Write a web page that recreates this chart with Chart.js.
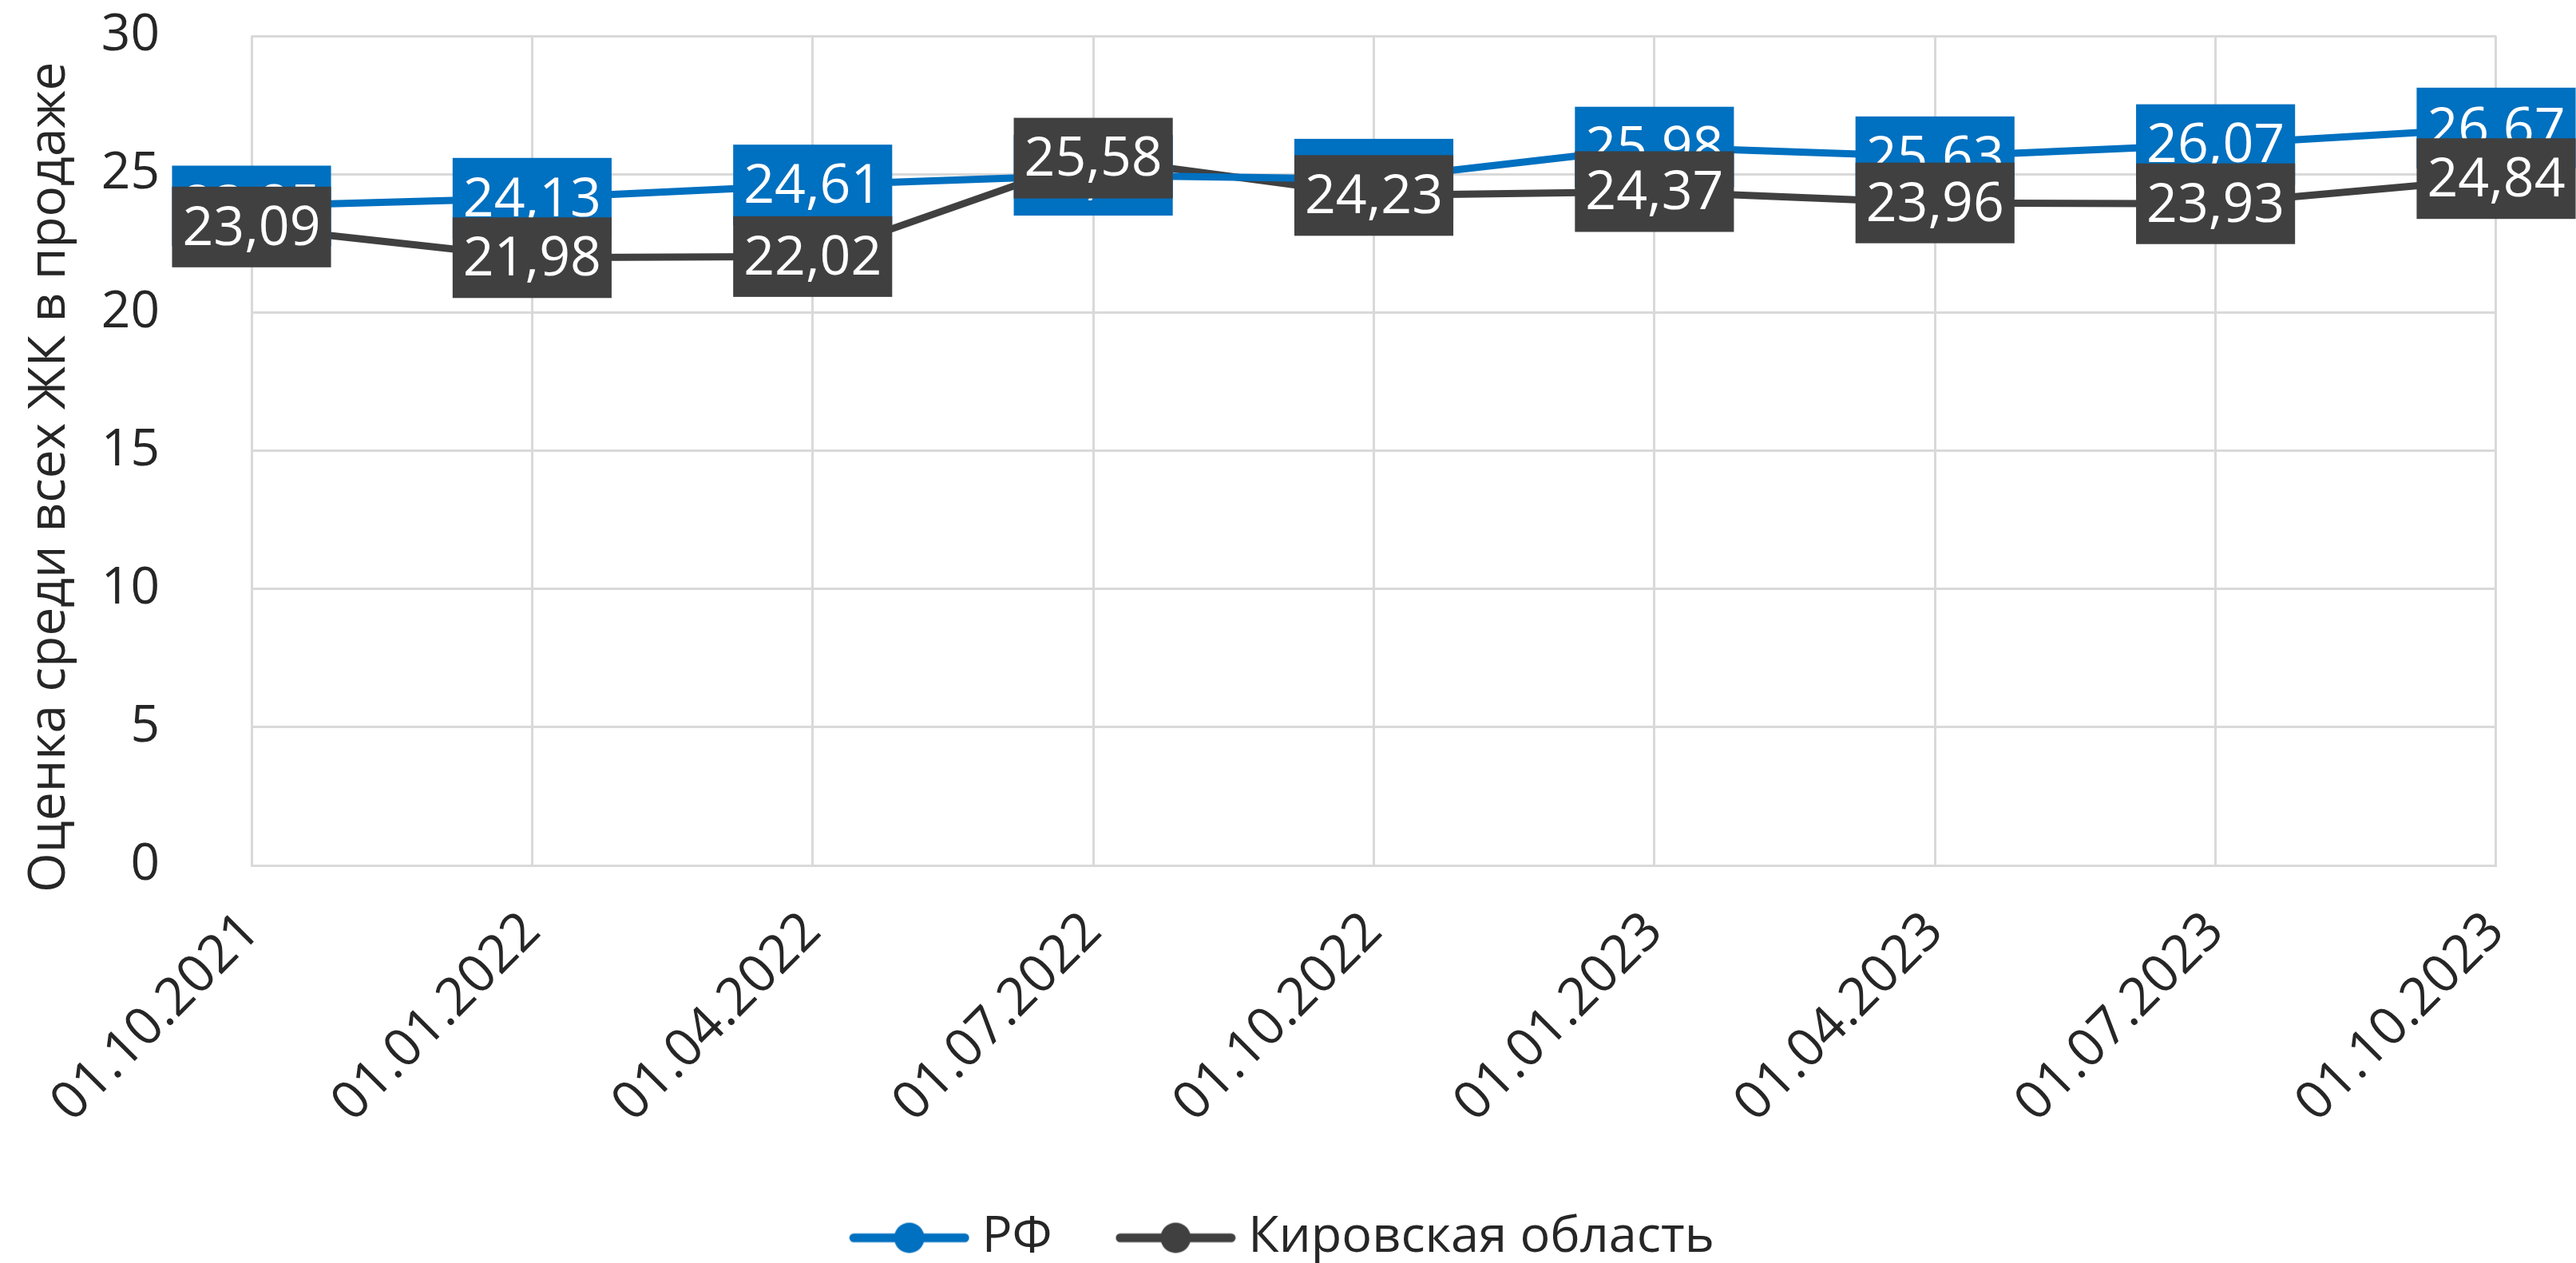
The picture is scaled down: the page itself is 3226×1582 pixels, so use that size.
<!DOCTYPE html>
<html>
<head>
<meta charset="utf-8">
<script src="https://cdn.jsdelivr.net/npm/chart.js@4.4.0/dist/chart.umd.min.js"></script>
<style>
  html, body { margin: 0; padding: 0; background: #ffffff; }
  canvas { display: block; }
</style>
</head>
<body>
<canvas id="chart" width="3226" height="1582"></canvas>
<script>
// data
const dates = ['01.10.2021', '01.01.2022', '01.04.2022', '01.07.2022', '01.10.2022',
               '01.01.2023', '01.04.2023', '01.07.2023', '01.10.2023'];
const rfValues = [23.85, 24.13, 24.61, 24.96, 24.82, 25.98, 25.63, 26.07, 26.67];
const kirovValues = [23.09, 21.98, 22.02, 25.58, 24.23, 24.37, 23.96, 23.93, 24.84];
const seriesNames = ['РФ', 'Кировская область'];
const yTitle = 'Оценка среди всех ЖК в продаже';

const BLUE = '#0070C0';
const DARK = '#404040';
const FONT = '"Open Sans", "Noto Sans", sans-serif';
const LEGEND_PAD = 95;
const LEGEND_FONT = 63;
const BOTTOM_PAD = -10;

const fmt = v => v.toFixed(2).replace('.', ',');

// small canvas used as the legend symbol: line with a round marker
function legendSymbol(color) {
  const c = document.createElement('canvas');
  c.width = 151;
  c.height = 40;
  const g = c.getContext('2d');
  g.strokeStyle = color;
  g.lineWidth = 11;
  g.lineCap = 'round';
  g.beginPath();
  g.moveTo(6, 20);
  g.lineTo(145, 20);
  g.stroke();
  g.fillStyle = color;
  g.beginPath();
  g.arc(75.5, 20, 19, 0, Math.PI * 2);
  g.fill();
  return c;
}

// Excel-like data labels: filled box with white text, centred on the point
const valueBoxes = {
  id: 'valueBoxes',
  afterDatasetsDraw(chart) {
    const ctx = chart.ctx;
    ctx.save();
    ctx.font = '68px ' + FONT;
    ctx.textAlign = 'center';
    ctx.textBaseline = 'middle';
    chart.data.datasets.forEach((ds, di) => {
      const meta = chart.getDatasetMeta(di);
      meta.data.forEach((pt, i) => {
        const text = fmt(ds.data[i]);
        const w = ctx.measureText(text).width + 26;
        const h = 101;
        ctx.fillStyle = ds.borderColor;
        ctx.fillRect(pt.x - w / 2, pt.y - h / 2, w, h);
        ctx.fillStyle = '#ffffff';
        ctx.fillText(text, pt.x, pt.y + 3);
      });
    });
    ctx.restore();
  }
};

new Chart(document.getElementById('chart').getContext('2d'), {
  type: 'line',
  data: {
    labels: dates,
    datasets: [
      {
        label: seriesNames[0],
        data: rfValues,
        borderColor: BLUE,
        backgroundColor: BLUE,
        borderWidth: 9,
        pointRadius: 17,
        pointBorderWidth: 0,
        tension: 0,
        clip: false
      },
      {
        label: seriesNames[1],
        data: kirovValues,
        borderColor: DARK,
        backgroundColor: DARK,
        borderWidth: 9,
        pointRadius: 17,
        pointBorderWidth: 0,
        tension: 0,
        clip: false
      }
    ]
  },
  options: {
    responsive: false,
    animation: false,
    devicePixelRatio: 1,
    layout: { padding: { top: 45, right: 0, left: 0, bottom: BOTTOM_PAD } },
    scales: {
      x: {
        offset: false,
        grid: { color: '#d9d9d9', lineWidth: 3, drawTicks: false },
        border: { color: '#d9d9d9', width: 3 },
        ticks: {
          minRotation: 45,
          maxRotation: 45,
          padding: 44,
          color: '#262626',
          font: { family: FONT, size: 66 }
        },
        afterFit: scale => {
          scale.height = 1582 - BOTTOM_PAD - (LEGEND_FONT + LEGEND_PAD + 10) - 1084;
        }
      },
      y: {
        min: 0,
        max: 30,
        grid: { color: '#d9d9d9', lineWidth: 3, drawTicks: true, tickLength: 115, tickColor: 'rgba(0,0,0,0)' },
        border: { display: false },
        ticks: {
          stepSize: 5,
          padding: 0,
          color: '#262626',
          font: { family: FONT, size: 64 }
        },
        title: {
          display: true,
          text: yTitle + '\u00a0\u00a0\u00a0\u00a0',
          color: '#262626',
          padding: { top: 24, bottom: 0 },
          font: { family: FONT, size: 64, weight: 'normal' }
        },
        afterFit: scale => { scale.width = 315; }
      },
      // empty strip on the right so the legend stays centred on the canvas
      yRight: {
        position: 'right',
        display: true,
        grid: { display: false },
        border: { display: false },
        ticks: { display: false },
        afterFit: scale => { scale.width = 90; }
      }
    },
    plugins: {
      tooltip: { enabled: false },
      legend: {
        position: 'bottom',
        labels: {
          usePointStyle: true,
          pointStyleWidth: 119,
          padding: LEGEND_PAD,
          color: '#262626',
          font: { family: FONT, size: LEGEND_FONT },
          generateLabels: chart => {
            const items = Chart.defaults.plugins.legend.labels.generateLabels(chart);
            items.forEach(it => {
              it.pointStyle = legendSymbol(chart.data.datasets[it.datasetIndex].borderColor);
            });
            return items;
          }
        }
      }
    }
  },
  plugins: [valueBoxes]
});
</script>
</body>
</html>
